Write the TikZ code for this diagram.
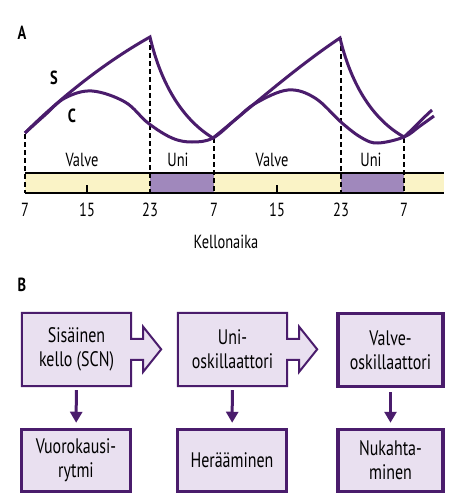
\documentclass[tikz,border=0pt]{standalone}
\usepackage{fontspec}
\setmainfont{PT Sans}[FakeStretch=0.76]
\usetikzlibrary{arrows.meta,positioning}
\definecolor{ink}{HTML}{4A1C6C}
\definecolor{lilac}{HTML}{E9E0F0}
\definecolor{sand}{HTML}{FAF3C6}
\definecolor{plum}{HTML}{A088BC}

\begin{document}
\begin{tikzpicture}[x=1pt,y=-1pt,
  curve/.style={draw=ink, line width=3pt},
  guide/.style={line width=1.6pt, dash pattern=on 5pt off 3pt},
  lbl/.style={font=\fontsize{19}{22}\selectfont, inner sep=0pt},
  panel/.style={font=\bfseries\fontsize{19}{22}\selectfont, inner sep=0pt},
  box/.style={fill=lilac, align=center, inner sep=0pt,
    font=\fontsize{21}{24}\selectfont},
  rim/.style={draw=ink, line width=2pt, line join=miter},
  thick rim/.style={draw=ink, line width=3.5pt},
  down/.style={draw=ink, line width=3pt, -{Triangle[width=12pt,length=11pt]},
    shorten <=4pt, shorten >=5pt}]
\useasboundingbox (0,0) rectangle (454,500);
\fill[white] (0,0) rectangle (454,500);

% panel A
\node[panel] (a) at (22,33) {A};

% time bar
\fill[sand] (25,173) rectangle (444,193);
\fill[plum] (150,173) rectangle (214,193);
\fill[plum] (341,173) rectangle (404,193);
\draw[line width=1.5pt] (25,173) -- (444,173) (25,193) -- (444,193);
\foreach \x in {87,277}
  \draw[line width=1.5pt] (\x,193) -- (\x,185);

% guides
\draw[guide] (25,134) -- (25,193);
\draw[guide] (150,37) -- (150,193);
\draw[guide] (214,138) -- (214,193);
\draw[guide] (341,38) -- (341,193);
\draw[guide] (404,138) -- (404,193);

% S
\draw[curve] (25,133) .. controls (55,103) and (100,65) .. (150,37)
  .. controls (160,80) and (180,118) .. (213,138)
  .. controls (250,108) and (295,68) .. (340,38)
  .. controls (350,80) and (370,118) .. (404,137)
  .. controls (414,128) and (422,119) .. (432,110);
% C
\draw[curve] plot[smooth, tension=0.6] coordinates {(25,133) (45,115)
  (65,98) (92,91) (125,102) (148,123) (172,138) (192,142) (213,138)
  (236,119) (256,103) (288,90) (315,98) (342,123) (362,138) (378,143)
  (404,137) (420,126) (434,116)};
\node[panel] (s) at (54,78) {S};
\node[panel] (c) at (72,116) {C};

% phases
\node[lbl] (valve1) at (82,160) {Valve};
\node[lbl] (uni1) at (178,160) {Uni};
\node[lbl] (valve2) at (272,160) {Valve};
\node[lbl] (uni2) at (371,160) {Uni};

% hours
\foreach \x/\h in {25/7,87/15,150/23,214/7,277/15,341/23,404/7}
  \node[lbl] (h\x) at (\x,210) {\h};
\node[lbl] (kello) at (226,242) {Kellonaika};

% panel B
\node[panel] (b) at (22,285) {B};

\node[box, minimum width=109pt, minimum height=73pt] (scn) at (76.5,349.5)
  {Sisäinen\\kello (SCN)};
\node[box, minimum width=109pt, minimum height=73pt] (unios) at (232.5,349.5)
  {Uni-\\oskillaattori};
\node[box, thick rim, minimum width=105pt, minimum height=73pt] (valveos)
  at (390.5,350) {Valve-\\oskillaattori};

% arrow outlines
\foreach \n in {scn,unios}
  \draw[rim, fill=lilac] (\n.north west) -- (\n.north east) -- ++(0,26)
    -- ++(12,0) -- ++(0,-12) -- ++(18,22.5) -- ++(-18,22.5) -- ++(0,-12)
    -- ++(-12,0) -- (\n.south east) -- (\n.south west) -- cycle;
\node[box, align=center] at (scn) {Sisäinen\\kello (SCN)};
\node[box, align=center] at (unios) {Uni-\\oskillaattori};

\node[box, thick rim, minimum width=109pt, minimum height=62pt] (rytmi)
  at (76,460.5) {Vuorokausi-\\rytmi};
\node[box, thick rim, minimum width=109pt, minimum height=62pt] (herat)
  at (232,460.5) {Herääminen};
\node[box, thick rim, minimum width=105pt, minimum height=62pt] (nukahta)
  at (390.5,460.5) {Nukahta-\\minen};

\draw[down] (scn) -- (rytmi);
\draw[down] (unios) -- (herat);
\draw[down] (valveos) -- (nukahta);
\end{tikzpicture}
\end{document}
